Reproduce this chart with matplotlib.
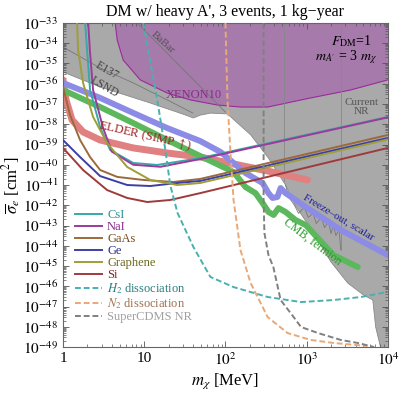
import numpy as np
import matplotlib
matplotlib.use('Agg')
import matplotlib.pyplot as plt
from matplotlib.ticker import FixedLocator, FuncFormatter, LogLocator, NullFormatter

plt.rcParams['font.family'] = ['Liberation Serif', 'DejaVu Serif']
plt.rcParams['mathtext.fontset'] = 'stix'

# all values are log10(m / MeV), log10(sigma / cm^2)
csi_x = [0.272, 0.296, 0.333, 0.457, 0.580, 0.864, 1.16, 1.69, 4.0]
csi_y = [-33.0, -34.33, -36.31, -38.14, -39.27, -39.91, -40.01, -39.67, -37.64]
nai_x = [0.31, 0.33, 0.37, 0.49, 0.60, 0.864, 1.20, 1.69, 4.0]
nai_y = [-33.0, -34.33, -36.31, -38.14, -39.35, -40.0, -40.10, -39.72, -37.66]
gaas_x = [0.0, 0.086, 0.21, 0.333, 0.457, 0.667, 0.988, 1.358, 1.69, 4.0]
gaas_y = [-36.16, -37.54, -38.78, -39.62, -40.26, -40.60, -40.75, -40.85, -40.70, -38.53]
ge_x = [0.0, 0.21, 0.457, 0.79, 1.074, 1.407, 1.69, 4.0]
ge_y = [-38.78, -39.62, -40.56, -41.0, -41.05, -40.90, -40.80, -38.68]
graph_x = [0.173, 0.185, 0.247, 0.370, 0.543, 0.79, 1.074, 1.407, 1.69, 4.0]
graph_y = [-33.0, -34.33, -35.96, -37.64, -38.93, -40.11, -40.75, -41.0, -40.90, -38.75]
si_x = [0.0, 0.247, 0.543, 0.79, 1.037, 1.32, 1.69, 4.0]
si_y = [-39.17, -40.26, -41.25, -41.64, -41.84, -41.74, -41.40, -39.17]

h2_x = [0.988, 1.16, 1.26, 1.32, 1.41, 1.605, 1.815, 2.10, 2.52, 2.93, 3.33, 3.67, 4.0]
h2_y = [-33.0, -36.80, -39.27, -41.0, -42.38, -44.06, -45.54, -46.04, -46.53, -46.78, -46.68, -46.53, -46.28]
n2_x = [2.0, 2.025, 2.06, 2.10, 2.185, 2.31, 2.52, 2.765, 3.05, 3.33, 3.75]
n2_y = [-33.0, -36.80, -39.27, -41.74, -44.21, -45.84, -47.52, -48.31, -48.65, -48.80, -48.95]
cdms_x = [2.47, 2.47, 2.48, 2.53, 2.59, 2.68, 2.84, 2.93, 3.14, 3.42, 3.63, 3.83]
cdms_y = [-33.0, -41.74, -43.37, -44.46, -45.05, -46.68, -47.52, -48.01, -48.31, -48.65, -48.80, -49.0]

fo_x = [0.0, 0.457, 0.864, 1.284, 1.69, 1.94, 2.247, 2.457, 2.53, 2.58, 2.64, 2.68, 2.74, 2.864, 2.99, 3.42, 4.0]
fo_y = [-35.96, -36.70, -37.44, -38.19, -38.83, -39.37, -40.41, -40.90, -41.40, -41.64, -41.59, -41.15, -41.40, -41.74, -42.09, -43.22, -44.46]
cmb_x = [0.0, 0.457, 0.864, 1.284, 1.69, 2.10, 2.247, 2.37, 2.457, 2.53, 2.593, 2.654, 2.74, 2.864, 2.99, 3.33, 3.63]
cmb_y = [-36.31, -37.15, -37.94, -38.78, -39.57, -40.36, -41.10, -41.40, -41.89, -42.33, -42.48, -42.14, -42.33, -42.73, -42.98, -44.46, -45.05]
elder_x = [0.0, 0.037, 0.111, 0.247, 0.457, 0.864, 1.284, 1.69, 2.10, 2.52, 3.01]
elder_y = [-35.81, -36.80, -37.79, -38.38, -38.78, -39.17, -39.42, -39.62, -39.96, -40.31, -40.75]

# excluded regions
gray_x = [0.0, 0.457, 1.074, 1.506, 1.605, 1.69, 1.815, 2.025, 2.31, 2.53, 2.74, 2.86,
          3.086, 3.30, 3.506, 3.70, 3.815, 3.85, 3.91]
gray_y = [-35.42, -36.16, -36.95, -37.54, -37.69, -37.55, -37.45, -37.49, -38.52, -39.67, -41.0, -42.0,
          -43.37, -44.80, -45.84, -46.43, -46.68, -48.01, -49.0]
xe_x = [0.642, 0.667, 0.741, 0.951, 1.284, 1.568, 1.90, 2.185, 2.52, 3.05, 3.54, 4.0]
xe_y = [-33.0, -33.84, -34.83, -35.81, -36.46, -36.80, -37.05, -37.15, -37.15, -36.70, -36.31, -35.81]
babar_x = [0.914, 2.0]
babar_y = [-33.0, -37.4]
e137_x = [0.0, 0.457, 0.864, 1.284, 1.60]
e137_y = [-34.19, -35.22, -35.96, -36.80, -37.45]
nr_x = [2.74, 2.78, 2.85, 2.90, 2.97, 3.02, 3.08, 3.12, 3.18, 3.22, 3.27, 3.30, 3.33, 3.36, 3.40, 3.42]
nr_y = [-41.0, -41.6, -42.0, -42.4, -42.1, -42.6, -42.4, -42.9, -42.6, -43.1, -42.8, -43.4, -43.0, -43.5, -43.2, -44.2]

fig = plt.figure(figsize=(3.99, 3.93), dpi=100)
ax = fig.add_axes([0.158, 0.117, 0.814, 0.8245])

def P(xs, ys):
    return 10.0 ** np.array(xs), 10.0 ** np.array(ys)

gx, gy = P([0.0] + gray_x + [4.0, 4.0], [-33.0] + gray_y + [-49.0, -33.0])
ax.fill(gx, gy, color='#a9a9a9', lw=0, zorder=1)
ax.plot(*P(gray_x, gray_y), color='#8a8a8a', lw=0.6, zorder=1.1)
xx, xy = P(xe_x + [4.0], xe_y + [-33.0])
ax.fill(xx, xy, color='#a67aab', lw=0, zorder=1.2)
ax.plot(*P(xe_x, xe_y), color='#9a2a9a', lw=0.8, zorder=1.3)
ax.plot(*P(babar_x, babar_y), color='#777777', lw=0.6, zorder=1.4)
ax.plot(*P(e137_x, e137_y), color='#777777', lw=0.6, zorder=1.4)
ax.plot(*P(nr_x, nr_y), color='#777777', lw=0.6, zorder=1.4)
ax.plot(*P([2.716, 2.716], [-33.0, -40.8]), color='#888888', lw=0.6, zorder=1.4)
ax.plot(*P([3.42, 3.42], [-33.0, -44.2]), color='#888888', lw=0.6, zorder=1.4)

ax.plot(*P(elder_x, elder_y), color='#e08080', lw=5, solid_capstyle='round', zorder=2)
ax.plot(*P(cmb_x, cmb_y), color='#5cb85c', lw=4.3, solid_capstyle='round', zorder=2)
ax.plot(*P(fo_x, fo_y), color='#8c8ce6', lw=4.3, zorder=2)

lines = [
    (csi_x, csi_y, '#3aa8a8', '-', 'CsI', '#2a8f8f'),
    (nai_x, nai_y, '#9b3b9b', '-', 'NaI', '#8a2a8a'),
    (gaas_x, gaas_y, '#9c6a3a', '-', 'GaAs', '#7a4a1a'),
    (ge_x, ge_y, '#3e3ea8', '-', 'Ge', '#2a2a8a'),
    (graph_x, graph_y, '#9e9e3a', '-', 'Graphene', '#6a6a1a'),
    (si_x, si_y, '#a03a3a', '-', 'Si', '#8a2020'),
    (h2_x, h2_y, '#4ab0b0', '--', '$H_2$ dissociation', '#2a8080'),
    (n2_x, n2_y, '#e8a878', '--', '$N_2$ dissociation', '#a07050'),
    (cdms_x, cdms_y, '#808080', '--', 'SuperCDMS NR', '#a0a0a0'),
]
handles = []
for xs, ys, c, ls, lab, tc in lines:
    h, = ax.plot(*P(xs, ys), color=c, ls=ls, lw=1.4, label=lab, zorder=3,
                 dashes=(3, 1.5) if ls == '--' else (None, None))
    handles.append(h)
leg = ax.legend(handles=handles, loc='upper left', bbox_to_anchor=(0.02, 0.44), frameon=False,
                fontsize=9, handlelength=2.2, labelspacing=0.0, handletextpad=0.4, borderaxespad=0)
for t, l in zip(leg.get_texts(), lines):
    t.set_color(l[5])

ax.set_xscale('log')
ax.set_yscale('log')
ax.set_xlim(1, 1e4)
ax.set_ylim(1e-49, 1e-33)
ax.yaxis.set_major_locator(FixedLocator([10.0 ** k for k in range(-49, -32)]))
ax.yaxis.set_major_formatter(FuncFormatter(lambda v, p: '$10^{%d}$' % round(np.log10(v))))
ax.yaxis.set_minor_locator(LogLocator(base=10, subs=np.arange(2, 10), numticks=100))
ax.yaxis.set_minor_formatter(NullFormatter())
ax.xaxis.set_major_locator(FixedLocator([1, 10, 100, 1000, 10000]))
ax.xaxis.set_major_formatter(FuncFormatter(
    lambda v, p: {1: '1', 10: '10'}.get(int(round(v)), '$10^{%d}$' % round(np.log10(v)))))
ax.xaxis.set_minor_locator(LogLocator(base=10, subs=np.arange(2, 10), numticks=100))
ax.xaxis.set_minor_formatter(NullFormatter())
ax.tick_params(which='both', direction='in', top=True, right=True, colors='#555555', labelcolor='black')
ax.tick_params(which='major', length=4, width=0.6, labelsize=11)
ax.tick_params(which='minor', length=2, width=0.5)
for s in ax.spines.values():
    s.set_color('#666666')
    s.set_linewidth(0.8)

ax.set_xlabel(r'$m_\chi$ [MeV]', fontsize=12, labelpad=2)
ax.set_ylabel(r'$\overline{\sigma}_e$ [cm$^2$]', fontsize=12, labelpad=0)
ax.set_title("DM w/ heavy A', 3 events, 1 kg\u2212year", fontsize=11.5, pad=5)

ax.text(10 ** 1.235, 10 ** -33.99, 'BaBar', color='#555555', fontsize=8, rotation=-42,
        ha='center', va='center', zorder=4)
ax.text(10 ** 0.543, 10 ** -35.37, 'E137', color='#444444', fontsize=8.5, rotation=-30,
        ha='center', va='center', zorder=4)
ax.text(10 ** 0.506, 10 ** -36.16, 'LSND', color='#444444', fontsize=8.5, rotation=-30,
        ha='center', va='center', zorder=4)
ax.text(10 ** 1.605, 10 ** -36.56, 'XENON10', color='#8a2a8a', fontsize=9,
        ha='center', va='center', zorder=4)
ax.text(10 ** 3.556, 10 ** -33.89, r'$F_{\rm DM}$=1', fontsize=10, ha='center', va='center', zorder=4)
ax.text(10 ** 3.49, 10 ** -34.68, r"$m_{A'}$ = 3 $m_\chi$", fontsize=10, ha='center', va='center', zorder=4)
ax.text(10 ** 3.68, 10 ** -37.15, 'Current\nNR', color='#555555', fontsize=8, ha='center', va='center',
        linespacing=1.0, zorder=4)
ax.text(10 ** 1.012, 10 ** -38.6, r'ELDER (SIMP $\uparrow$)', color='#a02020', fontsize=9, rotation=-13,
        ha='center', va='center', zorder=4)
ax.text(10 ** 3.395, 10 ** -42.58, 'Freeze\u2013out, scalar', color='#2020a0', fontsize=8, rotation=-31,
        ha='center', va='center', zorder=4)
ax.text(10 ** 3.06, 10 ** -43.86, 'CMB, fermion', color='#2a9a2a', fontsize=8.5, rotation=-37,
        ha='center', va='center', zorder=4)

fig.savefig('out.png', dpi=100)
